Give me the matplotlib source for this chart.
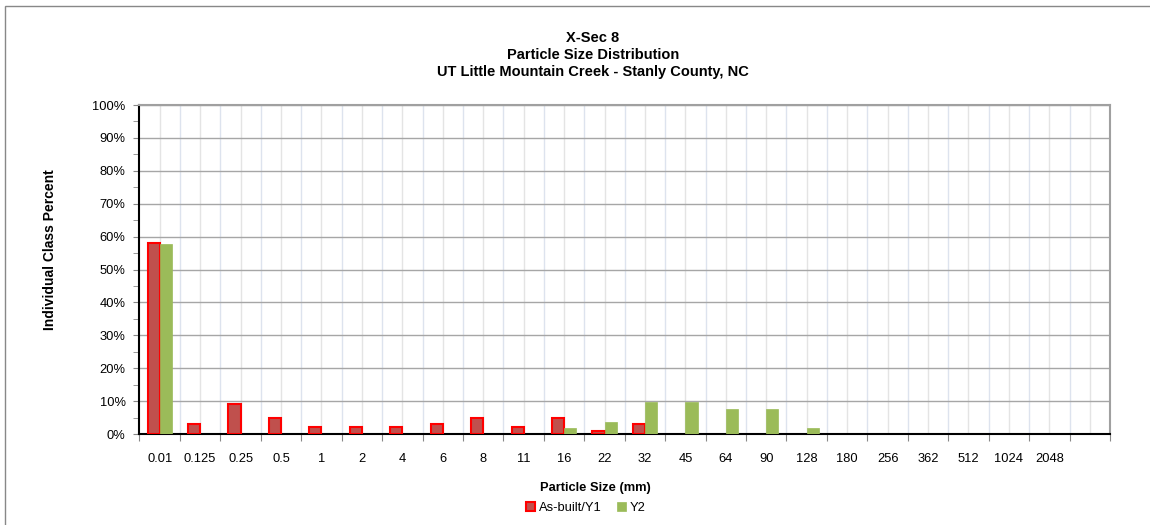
import numpy as np
import matplotlib.pyplot as plt
from matplotlib.patches import Rectangle

plt.rcParams['font.family'] = ['Liberation Sans', 'DejaVu Sans']

# particle size classes (mm), last slot on the axis is left empty
sizes = ['0.01', '0.125', '0.25', '0.5', '1', '2', '4', '6', '8', '11', '16', '22',
         '32', '45', '64', '90', '128', '180', '256', '362', '512', '1024', '2048', '']

# individual class percent
asbuilt_y1 = [58, 3, 9, 5, 2, 2, 2, 3, 5, 2, 5, 1, 3, 0, 0, 0, 0, 0, 0, 0, 0, 0, 0, 0]
y2 = [57.7, 0, 0, 0, 0, 0, 0, 0, 0, 0, 1.9, 3.8, 9.6, 9.6, 7.7, 7.7, 1.9,
      0, 0, 0, 0, 0, 0, 0]

fig = plt.figure(figsize=(11.5, 5.25), dpi=100)
ax = fig.add_axes([0.1213, 0.1733, 0.8439, 0.6267])

# outer chart border (top/left visible)
fig.patches.append(Rectangle((5 / 1150, -0.1), 1.2, 1 - 6 / 525 + 0.1,
                             transform=fig.transFigure, fill=False,
                             edgecolor='#888888', linewidth=1.0))

x = np.arange(len(sizes))
w = 0.3
# empty classes are not drawn at all
v1 = np.ma.masked_equal(asbuilt_y1, 0)
v2 = np.ma.masked_equal(y2, 0)
ax.bar(x - w / 2, v1, w, color='#C0504D', edgecolor='#FF0000',
       linewidth=1.5, label='As-built/Y1', zorder=3)
ax.bar(x + w / 2, v2, w, color='#9BBB59', edgecolor='#9BBB59',
       linewidth=0.5, label='Y2', zorder=3)

ax.set_xlim(-0.5, len(sizes) - 0.5)
ax.set_ylim(0, 100)

# x ticks: marks on class boundaries, labels at centres
ax.set_xticks(np.arange(-0.5, len(sizes), 1.0))
ax.set_xticklabels([])
ax.set_xticks(x, minor=True)
ax.set_xticklabels(sizes, minor=True, fontsize=9.3)
ax.tick_params(axis='x', which='major', direction='out', length=5, color='#888888')
ax.tick_params(axis='x', which='minor', length=0, pad=14)

ax.set_yticks(np.arange(0, 101, 10))
ax.set_yticklabels([f'{v}%' for v in range(0, 101, 10)], fontsize=9.3)
ax.set_yticks(np.arange(5, 100, 10), minor=True)
ax.tick_params(axis='y', which='both', direction='out', length=4, color='#888888', pad=6)

# grid
ax.grid(axis='y', which='major', color='#A6A6A6', linewidth=1.0, zorder=0)
for b in np.arange(0.5, len(sizes) - 0.5, 1.0):
    ax.axvline(b, color='#DDE3EE', linewidth=1.0, zorder=0)
for c in x:
    ax.axvline(c, color='#E4E4E4', linewidth=1.0, zorder=0)

ax.spines['left'].set_color('black')
ax.spines['left'].set_linewidth(1.5)
ax.spines['bottom'].set_color('black')
ax.spines['bottom'].set_linewidth(1.5)
ax.spines['top'].set_color('#A0A0A0')
ax.spines['top'].set_linewidth(1.5)
ax.spines['right'].set_color('#A0A0A0')
ax.spines['right'].set_linewidth(1.5)

fig.text(0.5157, 0.895, 'X-Sec 8\nParticle Size Distribution\nUT Little Mountain Creek - Stanly County, NC',
         ha='center', va='center', fontsize=10.5, fontweight='bold', linespacing=1.3)

ax.set_xlabel('Particle Size (mm)', fontsize=9.3, fontweight='bold')
ax.xaxis.set_label_coords(0.47, -0.145)
ax.set_ylabel('Individual Class Percent', fontsize=10, fontweight='bold')
ax.yaxis.set_label_coords(-0.085, 0.56)

ax.legend(loc='upper center', bbox_to_anchor=(0.46, -0.172), ncol=2, frameon=False,
          fontsize=9.3, handlelength=0.7, handleheight=0.7, handletextpad=0.3,
          columnspacing=1.2)

fig.savefig('out.png', dpi=100)
